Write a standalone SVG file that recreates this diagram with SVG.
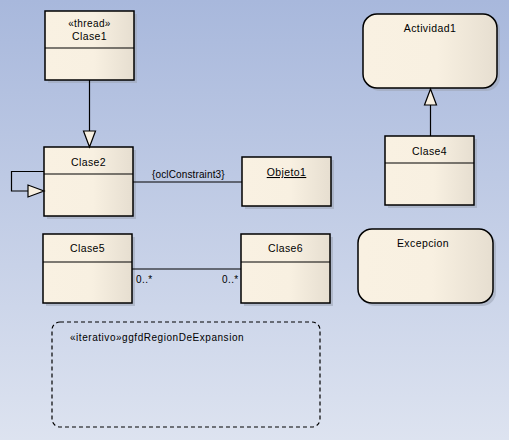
<svg xmlns="http://www.w3.org/2000/svg" width="509" height="440" viewBox="0 0 509 440">
<defs>
<linearGradient id="bg" x1="0" y1="0" x2="0" y2="1">
<stop offset="0" stop-color="#a8b8dc"/>
<stop offset="1" stop-color="#dde3f0"/>
</linearGradient>
<linearGradient id="fill" x1="0" y1="0" x2="1" y2="0">
<stop offset="0" stop-color="#f9f1e2"/>
<stop offset="0.55" stop-color="#f8f0e1"/>
<stop offset="1" stop-color="#e6ded0"/>
</linearGradient>
</defs>
<style>
.node{fill:url(#fill);stroke:#000;stroke-width:1.5}
.shadow{fill:#9ea6b8;opacity:0.6}
.div{stroke:#000;stroke-width:1.2}
.line{fill:none;stroke:#000;stroke-width:1.2}
.head{fill:#f8f0e1;stroke:#000;stroke-width:1.2}
text{font-family:"Liberation Sans","DejaVu Sans",sans-serif;font-size:10.5px;fill:#000;letter-spacing:0.4px}
.c{text-anchor:middle}
.s{font-size:10px}
</style>
<rect width="509" height="440" fill="url(#bg)"/>

<g id="Clase1">
<rect class="shadow" x="48" y="14" width="89" height="69"/>
<rect class="node" x="45" y="11" width="89" height="69"/>
<line class="div" x1="45" y1="48" x2="134" y2="48"/>
<text class="c s" x="89.5" y="27">«thread»</text>
<text class="c" x="89.5" y="40">Clase1</text>
</g>

<g id="Clase2">
<rect class="shadow" x="47" y="150" width="89" height="69"/>
<rect class="node" x="44" y="147" width="89" height="69"/>
<line class="div" x1="44" y1="174" x2="133" y2="174"/>
<text class="c" x="88.5" y="166">Clase2</text>
</g>

<g id="Objeto1">
<rect class="shadow" x="245" y="160" width="89" height="49"/>
<rect class="node" x="242" y="157" width="89" height="49"/>
<text class="c" x="286.5" y="176" text-decoration="underline">Objeto1</text>
</g>

<g id="Actividad1">
<rect class="shadow" x="366" y="17" width="134" height="74" rx="14"/>
<rect class="node" x="363" y="14" width="134" height="74" rx="14"/>
<text class="c" x="430" y="32">Actividad1</text>
</g>

<g id="Clase4">
<rect class="shadow" x="388" y="139" width="89" height="69"/>
<rect class="node" x="385" y="136" width="89" height="69"/>
<line class="div" x1="385" y1="163" x2="474" y2="163"/>
<text class="c" x="429.5" y="155">Clase4</text>
</g>

<g id="Clase5">
<rect class="shadow" x="46" y="237" width="89" height="69"/>
<rect class="node" x="43" y="234" width="89" height="69"/>
<line class="div" x1="43" y1="262" x2="132" y2="262"/>
<text class="c" x="87.5" y="252">Clase5</text>
</g>

<g id="Clase6">
<rect class="shadow" x="244" y="237" width="89" height="69"/>
<rect class="node" x="241" y="234" width="89" height="69"/>
<line class="div" x1="241" y1="262" x2="330" y2="262"/>
<text class="c" x="285.5" y="252">Clase6</text>
</g>

<g id="Excepcion">
<rect class="shadow" x="361" y="232" width="135" height="74" rx="14"/>
<rect class="node" x="358" y="229" width="135" height="74" rx="14"/>
<text class="c" x="423" y="247">Excepcion</text>
</g>

<g id="RegionDeExpansion">
<rect x="52" y="322" width="268" height="105" rx="8" fill="none" stroke="#000" stroke-width="1.2" stroke-dasharray="4,3"/>
<text x="70" y="341" class="s" textLength="174" lengthAdjust="spacing">«iterativo»ggfdRegionDeExpansion</text>
</g>

<g id="connectors">
<line class="line" x1="89.5" y1="80" x2="89.5" y2="131"/>
<polygon class="head" points="83.5,131 95.5,131 89.5,147"/>
<polyline class="line" points="44,171.5 11.5,171.5 11.5,191 28,191"/>
<polygon class="head" points="28,185 28,197 44,191"/>
<line class="line" x1="133" y1="182" x2="242" y2="182"/>
<text x="152" y="178" class="s" textLength="73" lengthAdjust="spacing">{oclConstraint3}</text>
<line class="line" x1="430.5" y1="136" x2="430.5" y2="105"/>
<polygon class="head" points="424.5,105 436.5,105 430.5,89"/>
<line class="line" x1="132" y1="269" x2="241" y2="269"/>
<text x="136" y="283" class="s">0..*</text>
<text x="222" y="283" class="s">0..*</text>
</g>
</svg>
